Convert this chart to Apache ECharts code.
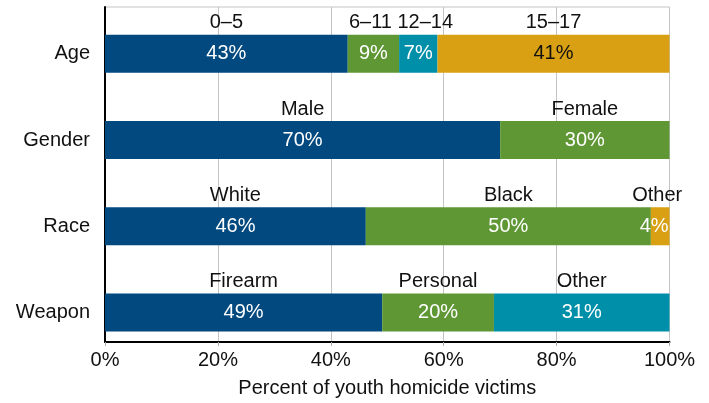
<!DOCTYPE html>
<html>
<head>
<meta charset="utf-8">
<script src="https://cdn.jsdelivr.net/npm/echarts@6/dist/echarts.min.js"></script>
<style>
html,body{margin:0;padding:0;background:#fff;}
#chart{width:709px;height:403px;}
</style>
</head>
<body>
<div id="chart"></div>
<script>
// ---- data ----
const categories = ['Age', 'Gender', 'Race', 'Weapon'];
const groupNames = [
  ['0–5', '6–11', '12–14', '15–17'],
  ['Male', 'Female'],
  ['White', 'Black', 'Other'],
  ['Firearm', 'Personal', 'Other']
];
const groupValues = [
  [43, 9.1, 6.8, 41.1],
  [70, 30],
  [46.2, 50.5, 3.3],
  [49.1, 19.8, 31.1]
];
const groupPctLabels = [
  ['43%', '9%', '7%', '41%'],
  ['70%', '30%'],
  ['46%', '50%', '4%'],
  ['49%', '20%', '31%']
];
const xTicks = [0, 20, 40, 60, 80, 100];

// ---- styles ----
const BLUE = '#01497f', GREEN = '#5f9735', TEAL = '#008fa9', GOLD = '#d8a012';
const segColors = [
  [BLUE, GREEN, TEAL, GOLD],
  [BLUE, GREEN],
  [BLUE, GREEN, GOLD],
  [BLUE, GREEN, TEAL]
];
const segLabelColors = [
  ['#fff', '#fff', '#fff', '#111'],
  ['#fff', '#fff'],
  ['#fff', '#fff', '#fff'],
  ['#fff', '#fff', '#fff']
];
// small horizontal nudges for crowded name labels (px)
const nameNudge = { '0,1': -3, '0,2': 7, '2,2': -3 };
const FONT = 'Liberation Sans, Arial, Helvetica, sans-serif';

const maxSlots = Math.max(...groupValues.map(g => g.length));
const barSeries = [];
for (let s = 0; s < maxSlots; s++) {
  barSeries.push({
    type: 'bar',
    stack: 'total',
    xAxisIndex: 1,
    yAxisIndex: 1,
    barWidth: 38,
    data: categories.map((c, i) => {
      const v = groupValues[i][s];
      if (v === undefined) return '-';
      const isTiny = v < 5;
      return {
        value: v,
        itemStyle: { color: segColors[i][s] },
        label: {
          show: true,
          position: 'inside',
          formatter: groupPctLabels[i][s],
          color: segLabelColors[i][s],
          fontFamily: FONT,
          fontSize: 20,
          offset: isTiny ? [-6, 0] : [0, 0]
        }
      };
    })
  });
}

// group name labels above each segment, positioned at segment centers
const nameData = [];
categories.forEach((c, i) => {
  let cum = 0;
  groupValues[i].forEach((v, s) => {
    nameData.push({
      value: [cum + v / 2, i],
      name: groupNames[i][s],
      label: { offset: [nameNudge[i + ',' + s] || 0, -31] }
    });
    cum += v;
  });
});

const option = {
  backgroundColor: '#fff',
  animation: false,
  grid: [
    { left: 105, right: 39.5, top: 7, bottom: 58, show: true, borderColor: '#c4c4c4', borderWidth: 1, containLabel: false },
    { left: 105, right: 39.5, top: 10.7, height: 344.9, containLabel: false }
  ],
  xAxis: [
    {
      gridIndex: 0, type: 'value', min: 0, max: 100, interval: 20,
      axisLine: { show: true, lineStyle: { color: '#000', width: 2 } },
      axisTick: { show: true, length: 4, lineStyle: { color: '#aaa' } },
      axisLabel: { formatter: v => xTicks.includes(v) ? v + '%' : '', color: '#111', fontFamily: FONT, fontSize: 20, margin: 8 },
      splitLine: { show: true, lineStyle: { color: '#c4c4c4', width: 1 } },
      name: 'Percent of youth homicide victims',
      nameLocation: 'middle',
      nameGap: 36,
      nameTextStyle: { color: '#111', fontFamily: FONT, fontSize: 20 }
    },
    { gridIndex: 1, type: 'value', min: 0, max: 100, show: false }
  ],
  yAxis: [
    {
      gridIndex: 0, type: 'value', min: 0, max: 1,
      axisLine: { show: true, onZero: false, lineStyle: { color: '#000', width: 2 } },
      axisTick: { show: false }, axisLabel: { show: false }, splitLine: { show: false }
    },
    {
      gridIndex: 1, type: 'category', data: categories, inverse: true,
      axisLine: { show: false }, axisTick: { show: false },
      axisLabel: { color: '#111', fontFamily: FONT, fontSize: 20, margin: 15 },
      splitLine: { show: false }
    }
  ],
  series: [
    ...barSeries,
    {
      type: 'scatter',
      xAxisIndex: 1,
      yAxisIndex: 1,
      symbolSize: 0,
      z: 5,
      itemStyle: { opacity: 1 },
      data: nameData,
      label: {
        show: true,
        position: 'inside',
        formatter: p => p.name,
        color: '#111',
        opacity: 1,
        fontFamily: FONT,
        fontSize: 20
      },
      emphasis: { disabled: true },
      tooltip: { show: false }
    }
  ]
};

const chart = echarts.init(document.getElementById('chart'), null, { renderer: 'canvas' });
chart.setOption(option);
</script>
</body>
</html>
